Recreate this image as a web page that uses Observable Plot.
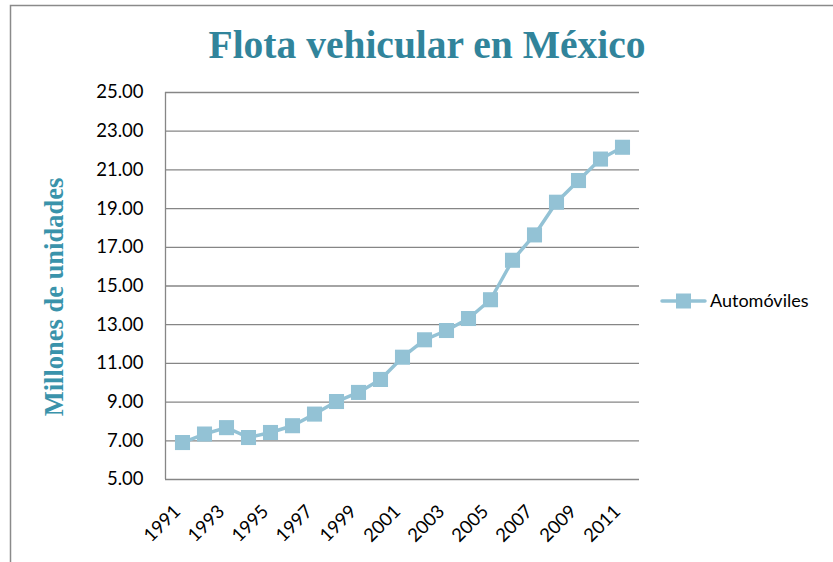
<!DOCTYPE html>
<html>
<head>
<meta charset="utf-8">
<script src="https://cdn.jsdelivr.net/npm/d3@7"></script>
<script src="https://cdn.jsdelivr.net/npm/@observablehq/plot@0.6"></script>
<style>
  html, body { margin: 0; padding: 0; background: #fff; }
  #chart { width: 833px; height: 562px; }
</style>
</head>
<body>
<div id="chart"></div>
<script>
const years = ["1991","1992","1993","1994","1995","1996","1997","1998","1999","2000","2001","2002","2003","2004","2005","2006","2007","2008","2009","2010","2011"];
const autos = [6.91, 7.35, 7.68, 7.17, 7.43, 7.78, 8.38, 9.03, 9.50, 10.17, 11.32, 12.22, 12.70, 13.32, 14.29, 16.33, 17.64, 19.33, 20.45, 21.56, 22.17];
const yTicks = [5, 7, 9, 11, 13, 15, 17, 19, 21, 23, 25];
const xTicks = ["1991","1993","1995","1997","1999","2001","2003","2005","2007","2009","2011"];
const seriesName = "Automóviles";
const title = "Flota vehicular en México";
const yTitle = "Millones de unidades";

const data = years.map((y, i) => ({year: y, value: autos[i]}));
const lineColor = "#93C2D5";
const gridColor = "#868686";
const teal = "#31849B";

const chart = Plot.plot({
  width: 833,
  height: 562,
  marginLeft: 165,
  marginRight: 194,
  marginTop: 92,
  marginBottom: 83,
  style: {fontFamily: "Lato, sans-serif", fontSize: "18px", color: "#000", background: "#fff"},
  x: {type: "point", domain: years, padding: 0.5, label: null},
  y: {domain: [5, 25], label: null},
  marks: [
    Plot.gridY(yTicks, {stroke: gridColor, strokeOpacity: 1, strokeWidth: 1.3}),
    Plot.axisY(yTicks, {tickFormat: d => d.toFixed(2), tickSize: 0, tickPadding: 22, fontSize: 18.5, label: null}),
    Plot.axisX(xTicks, {tickRotate: -45, tickSize: 0, tickPadding: 29, dx: -5, fontSize: 18.5, label: null}),
    Plot.line(data, {x: "year", y: "value", stroke: lineColor, strokeWidth: 3.5}),
    Plot.dot(data, {x: "year", y: "value", symbol: "square", fill: lineColor, stroke: "none", r: 8.5})
  ]
});
document.getElementById("chart").appendChild(chart);

const svg = d3.select(chart);
// outer chart border (top and left)
svg.append("path").attr("d", "M10.5,562 V5.5 H833").attr("fill", "none").attr("stroke", "#8a8a8a").attr("stroke-width", 1.5);
// left axis line
svg.append("line").attr("x1", 165.5).attr("x2", 165.5).attr("y1", 92).attr("y2", 479).attr("stroke", gridColor).attr("stroke-width", 1.3);
// title
svg.append("text").attr("x", 427).attr("y", 58).attr("text-anchor", "middle")
  .attr("font-family", "'Liberation Serif', serif").attr("font-weight", "bold").attr("font-size", 39.5)
  .attr("fill", teal).text(title);
// y axis title
svg.append("text").attr("transform", "translate(63,297) rotate(-90)").attr("text-anchor", "middle")
  .attr("font-family", "'Liberation Serif', serif").attr("font-weight", "bold").attr("font-size", 26.5)
  .attr("fill", "#3A93AB").text(yTitle);
// legend
const lg = svg.append("g").attr("transform", "translate(660,301)");
lg.append("line").attr("x1", 2).attr("x2", 45).attr("y1", 0).attr("y2", 0).attr("stroke", lineColor).attr("stroke-width", 3.5).attr("stroke-linecap", "round");
lg.append("rect").attr("x", 16).attr("y", -7.5).attr("width", 15).attr("height", 15).attr("fill", lineColor);
lg.append("text").attr("x", 50).attr("y", 0).attr("dy", "0.35em").attr("text-anchor", "start")
  .attr("font-family", "Lato, sans-serif").attr("font-size", 18).attr("fill", "#000").text(seriesName);
</script>
</body>
</html>
